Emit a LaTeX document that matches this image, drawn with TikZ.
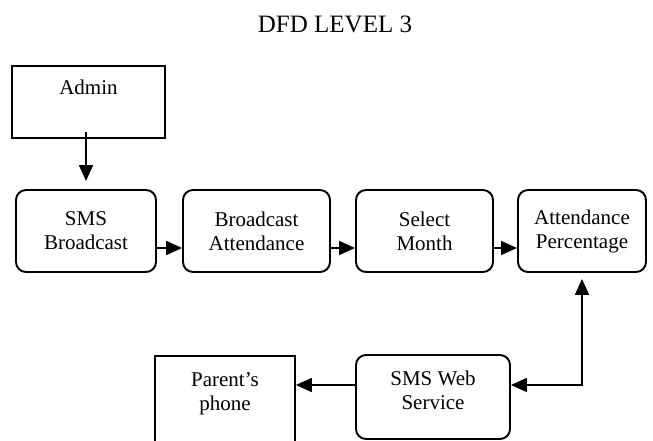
\documentclass[tikz,border=0pt]{standalone}
\usepackage{fontspec}
\setmainfont{Liberation Serif}
\usetikzlibrary{arrows.meta}
\usetikzlibrary{positioning}

\tikzset{
  process/.style={draw, line width=1.9pt, rounded corners=10pt, align=center, inner sep=0pt},
  entity/.style={draw, line width=1.7pt, align=center, inner sep=0pt},
  flow/.style={line width=1.8pt, -{Triangle[length=16pt,width=14pt]}},
  dflow/.style={line width=1.8pt, {Triangle[length=16pt,width=14pt]}-{Triangle[length=16pt,width=14pt]}},
}

\begin{document}
\begin{tikzpicture}[x=1pt,y=-1pt,font=\fontsize{21}{24}\selectfont]
\useasboundingbox (0,0) rectangle (653,441);
\clip (0,0) rectangle (653,441);
\node (title) at (335,24) {\fontsize{25}{30}\selectfont DFD LEVEL 3};
% external entities
\node[entity, minimum width=153pt, text height=29pt, text depth=43pt] (admin) at (88.5,102) {Admin};
\node[entity, minimum width=140pt, text height=54pt, text depth=48pt] (phone) at (225,407) {Parent's\\phone};
% processes
\node[process, minimum width=140pt, minimum height=82pt] (sms) at (86,231) {SMS\\Broadcast};
\node[process, minimum width=147pt, minimum height=82pt] (bcast) at (256.5,231) {Broadcast\\Attendance};
\node[process, minimum width=137pt, minimum height=82pt] (month) at (424.5,231) {Select\\Month};
\node[process, minimum width=128pt, minimum height=82pt] (pct) at (582,231) {Attendance\\Percentage};
\node[process, minimum width=154pt, text height=54pt, text depth=30pt] (web) at (433,397) {SMS Web\\Service};
% flows
\draw[flow] ([yshift=7pt]admin.south -| sms.north) -- ([yshift=8pt]sms.north);
\draw[flow] ([yshift=-17pt]sms.east) -- ([yshift=-17pt]bcast.west);
\draw[flow] ([yshift=-17pt]bcast.east) -- ([yshift=-17pt]month.west);
\draw[flow] ([yshift=-17pt]month.east) -- ([yshift=-17pt]pct.west);
\draw[dflow] ([yshift=12pt]web.east) -| ([yshift=-6pt]pct.south);
\draw[flow] ([yshift=12pt]web.west) -- ([yshift=12pt]web.west -| phone.east);
\end{tikzpicture}
\end{document}
